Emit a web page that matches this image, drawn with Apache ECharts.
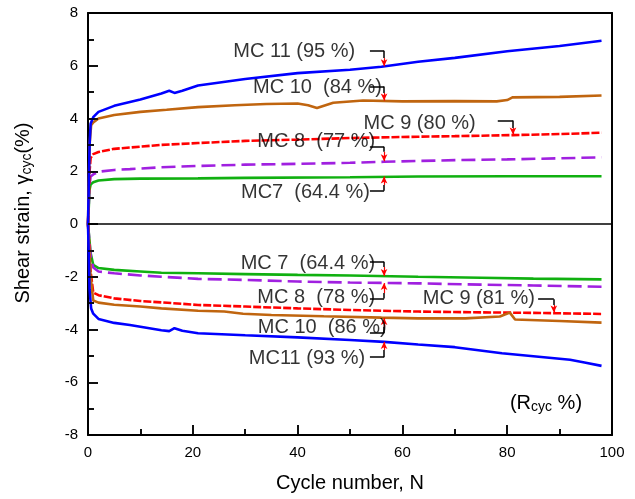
<!DOCTYPE html>
<html>
<head>
<meta charset="utf-8">
<script src="https://cdn.jsdelivr.net/npm/echarts@6/dist/echarts.min.js"></script>
<style>
  html, body { margin: 0; padding: 0; background: #fff; }
  #chart { width: 635px; height: 499px; }
</style>
</head>
<body>
<div id="chart"></div>
<script>
// [cycle N, shear strain %]
const mc11Pos = [[0,0],[0.3,3.0],[0.5,3.8],[1,4.05],[2,4.25],[5,4.48],[10,4.72],[14,4.95],[15.5,5.05],[16.5,4.97],[18,5.05],[21,5.25],[30,5.5],[40,5.72],[50,5.85],[56,5.96],[63,6.15],[70,6.3],[80,6.55],[90,6.75],[98,6.95]];
const mc10Pos = [[0,0],[0.3,3.0],[0.6,3.75],[1,3.85],[2,4.0],[5,4.13],[10,4.25],[15,4.33],[21,4.43],[28,4.5],[34,4.55],[40,4.57],[42,4.5],[43.7,4.4],[46.8,4.6],[52.5,4.68],[60,4.65],[70,4.66],[78,4.65],[80,4.7],[81,4.8],[90,4.82],[98,4.87]];
const mc9Pos = [[0,0],[0.3,2.0],[0.5,2.5],[1,2.65],[2,2.73],[5,2.85],[8,2.9],[14,3.0],[21,3.07],[30,3.15],[40,3.2],[50,3.26],[63,3.31],[70,3.33],[81,3.37],[90,3.41],[98,3.46]];
const mc8Pos = [[0,0],[0.3,1.5],[0.5,1.8],[1,1.88],[2,1.98],[5,2.05],[8,2.08],[14,2.15],[21,2.2],[30,2.25],[40,2.28],[50,2.32],[56.5,2.36],[63,2.39],[70,2.42],[80,2.45],[90,2.49],[98,2.53]];
const mc7Pos = [[0,0],[0.3,1.3],[0.5,1.5],[1,1.58],[2,1.65],[5,1.7],[10,1.72],[21,1.73],[30,1.75],[50,1.77],[63,1.8],[80,1.81],[98,1.81]];

const mc7Neg = [[0,0],[0.5,-1.1],[1,-1.55],[2,-1.67],[5,-1.74],[10,-1.8],[14,-1.85],[21,-1.87],[30,-1.9],[40,-1.93],[50,-1.95],[63,-2.0],[75,-2.04],[85,-2.07],[98,-2.1]];
const mc8Neg = [[0,0],[0.5,-1.2],[1,-1.65],[2,-1.8],[5,-1.87],[10,-1.95],[14,-2.0],[21,-2.08],[30,-2.12],[40,-2.18],[50,-2.22],[63,-2.25],[75,-2.3],[85,-2.33],[98,-2.38]];
const mc9Neg = [[0,0],[0.5,-1.8],[1,-2.6],[2,-2.7],[5,-2.82],[10,-2.92],[14,-2.97],[21,-3.07],[30,-3.13],[40,-3.2],[50,-3.26],[63,-3.32],[75,-3.35],[85,-3.37],[98,-3.41]];
const mc10Neg = [[0,0],[0.5,-2.0],[1,-2.9],[2,-2.98],[5,-3.06],[10,-3.13],[14,-3.2],[21,-3.29],[26,-3.32],[29.6,-3.4],[35,-3.45],[45,-3.5],[56,-3.55],[63,-3.58],[72,-3.58],[78.6,-3.51],[80.5,-3.36],[81.5,-3.62],[90,-3.68],[98,-3.74]];
const mc11Neg = [[0,0],[0.3,-2.5],[0.6,-3.2],[1,-3.4],[2,-3.6],[5,-3.75],[8,-3.83],[14,-4.03],[15.5,-4.06],[16.5,-3.95],[18,-4.05],[21,-4.14],[30,-4.22],[40,-4.3],[50,-4.4],[56.5,-4.47],[63,-4.57],[70,-4.67],[79,-4.9],[87,-5.05],[92,-5.15],[95,-5.26],[98,-5.38]];

// tick positions
const xMajor = [0, 20, 40, 60, 80, 100];
const xMinor = [10, 30, 50, 70, 90];
const yMajor = [-8, -6, -4, -2, 0, 2, 4, 6, 8];
const yMinor = [-7, -5, -3, -1, 1, 3, 5, 7];

// callout: label text ends at (tx, ty); black elbow x1->x2 at ya, then to yb; red arrow yb->yc
const callouts = [
  { text: 'MC 11 (95 %)',   tx: 51,   ty: 6.55,  x1: 53.8, x2: 56.5, ya: 6.57,  yb: 6.29,  yc: 5.98 },
  { text: 'MC 10  (84 %)',  tx: 56.1, ty: 5.16,  x1: 53.8, x2: 56.5, ya: 5.21,  yb: 4.97,  yc: 4.68 },
  { text: 'MC 9 (80 %)',    tx: 74,   ty: 3.82,  x1: 78.2, x2: 81.1, ya: 3.92,  yb: 3.64,  yc: 3.39 },
  { text: 'MC 8  (77 %)',   tx: 54.8, ty: 3.11,  x1: 53.8, x2: 56.5, ya: 2.93,  yb: 2.74,  yc: 2.38 },
  { text: 'MC7  (64.4 %)',  tx: 53.8, ty: 1.18,  x1: 53.8, x2: 56.5, ya: 1.26,  yb: 1.48,  yc: 1.8 },
  { text: 'MC 7  (64.4 %)', tx: 54.8, ty: -1.49, x1: 53.8, x2: 56.5, ya: -1.43, yb: -1.63, yc: -1.97 },
  { text: 'MC 8  (78 %)',   tx: 54.8, ty: -2.77, x1: 53.8, x2: 56.5, ya: -2.82, yb: -2.62, yc: -2.24 },
  { text: 'MC 9 (81 %)',    tx: 85.3, ty: -2.83, x1: 85.9, x2: 88.9, ya: -2.85, yb: -3.07, yc: -3.36 },
  { text: 'MC 10  (86 %)',  tx: 57,   ty: -3.92, x1: 53.8, x2: 56.5, ya: -4.14, yb: -3.9,  yc: -3.56 },
  { text: 'MC11 (93 %)',    tx: 52.9, ty: -5.08, x1: 53.8, x2: 56.5, ya: -5.05, yb: -4.78, yc: -4.47 }
];

const FONT = 'Liberation Sans, Arial, sans-serif';
const BLUE = '#0000ff', ORANGE = '#c0650f', RED = '#ff0000', PURPLE = '#a020e0', GREEN = '#10b010';
const PLOT = { left: 88, right: 23, top: 13, bottom: 64 };
const X_MIN = 0, X_MAX = 100, Y_MIN = -8, Y_MAX = 8;

function curve(name, data, color, dash) {
  return {
    name: name,
    type: 'line',
    data: data,
    showSymbol: false,
    symbol: 'none',
    lineStyle: { color: color, width: 2.6, type: dash || 'solid' },
    z: 3
  };
}

function mainAxis() {
  return {
    axisLine: { show: true, onZero: false, lineStyle: { color: '#000', width: 2 } },
    axisTick: { show: true, inside: true, length: 10, lineStyle: { color: '#000', width: 1.5 } },
    minorTick: { show: true, splitNumber: 2, length: 6, lineStyle: { color: '#000', width: 1.5 } },
    axisLabel: { show: true, fontFamily: FONT, fontSize: 15, color: '#000', margin: 10 },
    splitLine: { show: false },
    minorSplitLine: { show: false }
  };
}

// plain frame line for the top and right sides
function frameAxis() {
  return {
    axisLine: { show: true, onZero: false, lineStyle: { color: '#000', width: 2 } },
    axisTick: { show: false },
    minorTick: { show: false },
    axisLabel: { show: false },
    splitLine: { show: false }
  };
}

const chart = echarts.init(document.getElementById('chart'), null, { renderer: 'canvas' });

// tick lengths turned from pixels into data units of the plot box
const plotW = 635 - PLOT.left - PLOT.right;
const plotH = 499 - PLOT.top - PLOT.bottom;
const xPerPx = (X_MAX - X_MIN) / plotW;
const yPerPx = (Y_MAX - Y_MIN) / plotH;

const tickLines = [];
xMajor.forEach(v => tickLines.push([{ coord: [v, Y_MIN] }, { coord: [v, Y_MIN + 10 * yPerPx] }]));
xMinor.forEach(v => tickLines.push([{ coord: [v, Y_MIN] }, { coord: [v, Y_MIN + 6 * yPerPx] }]));
yMajor.forEach(v => tickLines.push([{ coord: [X_MIN, v] }, { coord: [X_MIN + 10 * xPerPx, v] }]));
yMinor.forEach(v => tickLines.push([{ coord: [X_MIN, v] }, { coord: [X_MIN + 6 * xPerPx, v] }]));

const blackLines = [];
const redArrows = [];
callouts.forEach(c => {
  blackLines.push([{ coord: [c.x1, c.ya] }, { coord: [c.x2, c.ya] }]);
  blackLines.push([{ coord: [c.x2, c.ya] }, { coord: [c.x2, c.yb] }]);
  redArrows.push([{ coord: [c.x2, c.yb] }, { coord: [c.x2, c.yc] }]);
});

const option = {
  animation: false,
  grid: PLOT,
  xAxis: [
    Object.assign(mainAxis(), {
      type: 'value', min: X_MIN, max: X_MAX, interval: 20, position: 'bottom',
      name: 'Cycle number, N', nameLocation: 'middle', nameGap: 38,
      nameTextStyle: { fontFamily: FONT, fontSize: 20, color: '#000' }
    }),
    Object.assign(frameAxis(), { type: 'value', min: X_MIN, max: X_MAX, position: 'top' })
  ],
  yAxis: [
    Object.assign(mainAxis(), { type: 'value', min: Y_MIN, max: Y_MAX, interval: 2, position: 'left' }),
    Object.assign(frameAxis(), { type: 'value', min: Y_MIN, max: Y_MAX, position: 'right' })
  ],
  graphic: [
    {
      type: 'text', x: 23, y: 213, rotation: Math.PI / 2,
      style: {
        text: 'Shear strain, γ{s|cyc}(%)',
        font: '20px ' + FONT, fill: '#000', align: 'center', verticalAlign: 'middle',
        rich: { s: { fontSize: 14, fontFamily: FONT, padding: [8, 0, 0, 0] } }
      }
    },
    {
      type: 'text', x: 546, y: 403,
      style: {
        text: '(R{s|cyc} %)',
        font: '20px ' + FONT, fill: '#000', align: 'center', verticalAlign: 'middle',
        rich: { s: { fontSize: 14, fontFamily: FONT, padding: [9, 0, 0, 0] } }
      }
    }
  ],
  series: [
    curve('MC7 +', mc7Pos, GREEN),
    curve('MC8 +', mc8Pos, PURPLE, [14, 6]),
    curve('MC9 +', mc9Pos, RED, [8, 2]),
    curve('MC10 +', mc10Pos, ORANGE),
    curve('MC11 +', mc11Pos, BLUE),
    curve('MC7 -', mc7Neg, GREEN),
    curve('MC8 -', mc8Neg, PURPLE, [14, 6]),
    curve('MC9 -', mc9Neg, RED, [8, 2]),
    curve('MC10 -', mc10Neg, ORANGE),
    curve('MC11 -', mc11Neg, BLUE),
    {
      name: 'labels',
      type: 'scatter',
      symbolSize: 0,
      silent: true,
      z: 5,
      data: callouts.map(c => [c.tx, c.ty, c.text]),
      label: {
        show: true, position: 'left', distance: 0,
        fontFamily: FONT, fontSize: 20, color: '#000',
        formatter: p => p.data[2]
      },
      markLine: {
        silent: true, symbol: 'none', animation: false,
        label: { show: false },
        lineStyle: { color: '#000', width: 1.5, type: 'solid' },
        data: blackLines.concat([[{ coord: [X_MIN, 0] }, { coord: [X_MAX, 0] }]])
      }
    },
    {
      name: 'arrows',
      type: 'scatter',
      data: [],
      silent: true,
      z: 6,
      markLine: {
        silent: true, symbol: ['none', 'arrow'], symbolSize: [5, 7], animation: false,
        label: { show: false },
        lineStyle: { color: RED, width: 1.2, type: 'solid' },
        data: redArrows
      }
    },
    {
      name: 'ticks',
      type: 'scatter',
      data: [],
      silent: true,
      z: 7,
      markLine: {
        silent: true, symbol: 'none', animation: false,
        label: { show: false },
        lineStyle: { color: '#000', width: 1.5, type: 'solid' },
        data: tickLines
      }
    }
  ]
};

chart.setOption(option);
</script>
</body>
</html>
